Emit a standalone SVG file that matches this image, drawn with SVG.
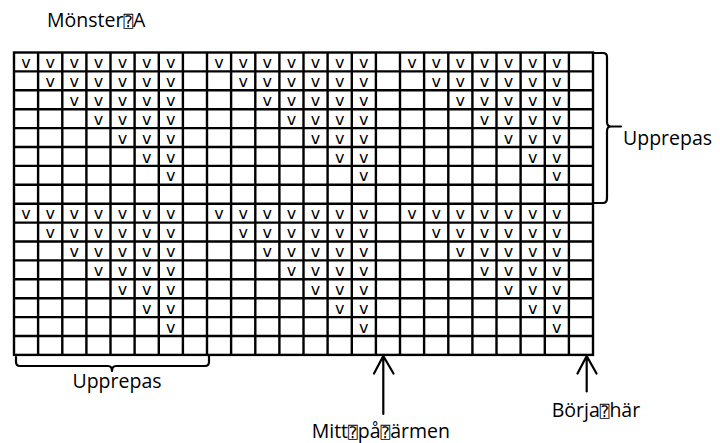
<svg xmlns="http://www.w3.org/2000/svg" width="720" height="443" viewBox="0 0 720 443">
  <style>
    .lbl { font-family: "Open Sans", "Noto Sans", "DejaVu Sans", sans-serif; font-size: 19.5px; fill: #000; }
    .gap { font-family: "DejaVu Sans Mono", "DejaVu Sans", monospace; font-size: 16px; }
    .st { font-family: "DejaVu Sans", "Open Sans", sans-serif; font-size: 16px; fill: #000; text-anchor: middle; }
    .grid { stroke: #000; stroke-width: 2.4; fill: none; }
    .ln { stroke: #000; stroke-width: 2.2; fill: none; stroke-linecap: round; stroke-linejoin: round; }
  </style>
  <rect width="720" height="443" fill="#fff"/>

  <g id="title">
    <text class="lbl" x="47" y="27">Mönster<tspan class="gap">&#x2370;</tspan>A</text>
  </g>

  <!-- chart grid: 24 columns x 16 rows -->
  <g id="chart">
    <g class="grid">
      <rect x="14" y="52.5" width="579" height="302.4"/>
      <path d="M38.1 52.5V354.9M62.3 52.5V354.9M86.4 52.5V354.9M110.5 52.5V354.9M134.6 52.5V354.9M158.8 52.5V354.9M182.9 52.5V354.9M207 52.5V354.9M231.1 52.5V354.9M255.3 52.5V354.9M279.4 52.5V354.9M303.5 52.5V354.9M327.6 52.5V354.9M351.8 52.5V354.9M375.9 52.5V354.9M400 52.5V354.9M424.1 52.5V354.9M448.3 52.5V354.9M472.4 52.5V354.9M496.5 52.5V354.9M520.6 52.5V354.9M544.8 52.5V354.9M568.9 52.5V354.9"/>
      <path d="M14 71.4H593M14 90.3H593M14 109.2H593M14 128.1H593M14 147H593M14 165.9H593M14 184.8H593M14 203.7H593M14 222.6H593M14 241.5H593M14 260.4H593M14 279.3H593M14 298.2H593M14 317.1H593M14 336H593"/>
    </g>
    <!-- stitch symbols; each block of 8x8 cells -->
    <g id="stitches">
      <!-- row 1 -->
      <text class="st" x="26.1" y="68">v</text><text class="st" x="50.2" y="68">v</text><text class="st" x="74.3" y="68">v</text><text class="st" x="98.4" y="68">v</text><text class="st" x="122.6" y="68">v</text><text class="st" x="146.7" y="68">v</text><text class="st" x="170.8" y="68">v</text>
      <text class="st" x="219.1" y="68">v</text><text class="st" x="243.2" y="68">v</text><text class="st" x="267.3" y="68">v</text><text class="st" x="291.4" y="68">v</text><text class="st" x="315.6" y="68">v</text><text class="st" x="339.7" y="68">v</text><text class="st" x="363.8" y="68">v</text>
      <text class="st" x="412.1" y="68">v</text><text class="st" x="436.2" y="68">v</text><text class="st" x="460.3" y="68">v</text><text class="st" x="484.4" y="68">v</text><text class="st" x="508.6" y="68">v</text><text class="st" x="532.7" y="68">v</text><text class="st" x="556.8" y="68">v</text>
      <!-- row 2 -->
      <text class="st" x="50.2" y="86.9">v</text><text class="st" x="74.3" y="86.9">v</text><text class="st" x="98.4" y="86.9">v</text><text class="st" x="122.6" y="86.9">v</text><text class="st" x="146.7" y="86.9">v</text><text class="st" x="170.8" y="86.9">v</text>
      <text class="st" x="243.2" y="86.9">v</text><text class="st" x="267.3" y="86.9">v</text><text class="st" x="291.4" y="86.9">v</text><text class="st" x="315.6" y="86.9">v</text><text class="st" x="339.7" y="86.9">v</text><text class="st" x="363.8" y="86.9">v</text>
      <text class="st" x="436.2" y="86.9">v</text><text class="st" x="460.3" y="86.9">v</text><text class="st" x="484.4" y="86.9">v</text><text class="st" x="508.6" y="86.9">v</text><text class="st" x="532.7" y="86.9">v</text><text class="st" x="556.8" y="86.9">v</text>
      <!-- row 3 -->
      <text class="st" x="74.3" y="105.8">v</text><text class="st" x="98.4" y="105.8">v</text><text class="st" x="122.6" y="105.8">v</text><text class="st" x="146.7" y="105.8">v</text><text class="st" x="170.8" y="105.8">v</text>
      <text class="st" x="267.3" y="105.8">v</text><text class="st" x="291.4" y="105.8">v</text><text class="st" x="315.6" y="105.8">v</text><text class="st" x="339.7" y="105.8">v</text><text class="st" x="363.8" y="105.8">v</text>
      <text class="st" x="460.3" y="105.8">v</text><text class="st" x="484.4" y="105.8">v</text><text class="st" x="508.6" y="105.8">v</text><text class="st" x="532.7" y="105.8">v</text><text class="st" x="556.8" y="105.8">v</text>
      <!-- row 4 -->
      <text class="st" x="98.4" y="124.7">v</text><text class="st" x="122.6" y="124.7">v</text><text class="st" x="146.7" y="124.7">v</text><text class="st" x="170.8" y="124.7">v</text>
      <text class="st" x="291.4" y="124.7">v</text><text class="st" x="315.6" y="124.7">v</text><text class="st" x="339.7" y="124.7">v</text><text class="st" x="363.8" y="124.7">v</text>
      <text class="st" x="484.4" y="124.7">v</text><text class="st" x="508.6" y="124.7">v</text><text class="st" x="532.7" y="124.7">v</text><text class="st" x="556.8" y="124.7">v</text>
      <!-- row 5 -->
      <text class="st" x="122.6" y="143.6">v</text><text class="st" x="146.7" y="143.6">v</text><text class="st" x="170.8" y="143.6">v</text>
      <text class="st" x="315.6" y="143.6">v</text><text class="st" x="339.7" y="143.6">v</text><text class="st" x="363.8" y="143.6">v</text>
      <text class="st" x="508.6" y="143.6">v</text><text class="st" x="532.7" y="143.6">v</text><text class="st" x="556.8" y="143.6">v</text>
      <!-- row 6 -->
      <text class="st" x="146.7" y="162.5">v</text><text class="st" x="170.8" y="162.5">v</text>
      <text class="st" x="339.7" y="162.5">v</text><text class="st" x="363.8" y="162.5">v</text>
      <text class="st" x="532.7" y="162.5">v</text><text class="st" x="556.8" y="162.5">v</text>
      <!-- row 7 -->
      <text class="st" x="170.8" y="181.4">v</text><text class="st" x="363.8" y="181.4">v</text><text class="st" x="556.8" y="181.4">v</text>
      <!-- row 9 -->
      <text class="st" x="26.1" y="219.2">v</text><text class="st" x="50.2" y="219.2">v</text><text class="st" x="74.3" y="219.2">v</text><text class="st" x="98.4" y="219.2">v</text><text class="st" x="122.6" y="219.2">v</text><text class="st" x="146.7" y="219.2">v</text><text class="st" x="170.8" y="219.2">v</text>
      <text class="st" x="219.1" y="219.2">v</text><text class="st" x="243.2" y="219.2">v</text><text class="st" x="267.3" y="219.2">v</text><text class="st" x="291.4" y="219.2">v</text><text class="st" x="315.6" y="219.2">v</text><text class="st" x="339.7" y="219.2">v</text><text class="st" x="363.8" y="219.2">v</text>
      <text class="st" x="412.1" y="219.2">v</text><text class="st" x="436.2" y="219.2">v</text><text class="st" x="460.3" y="219.2">v</text><text class="st" x="484.4" y="219.2">v</text><text class="st" x="508.6" y="219.2">v</text><text class="st" x="532.7" y="219.2">v</text><text class="st" x="556.8" y="219.2">v</text>
      <!-- row 10 -->
      <text class="st" x="50.2" y="238.1">v</text><text class="st" x="74.3" y="238.1">v</text><text class="st" x="98.4" y="238.1">v</text><text class="st" x="122.6" y="238.1">v</text><text class="st" x="146.7" y="238.1">v</text><text class="st" x="170.8" y="238.1">v</text>
      <text class="st" x="243.2" y="238.1">v</text><text class="st" x="267.3" y="238.1">v</text><text class="st" x="291.4" y="238.1">v</text><text class="st" x="315.6" y="238.1">v</text><text class="st" x="339.7" y="238.1">v</text><text class="st" x="363.8" y="238.1">v</text>
      <text class="st" x="436.2" y="238.1">v</text><text class="st" x="460.3" y="238.1">v</text><text class="st" x="484.4" y="238.1">v</text><text class="st" x="508.6" y="238.1">v</text><text class="st" x="532.7" y="238.1">v</text><text class="st" x="556.8" y="238.1">v</text>
      <!-- row 11 -->
      <text class="st" x="74.3" y="257">v</text><text class="st" x="98.4" y="257">v</text><text class="st" x="122.6" y="257">v</text><text class="st" x="146.7" y="257">v</text><text class="st" x="170.8" y="257">v</text>
      <text class="st" x="267.3" y="257">v</text><text class="st" x="291.4" y="257">v</text><text class="st" x="315.6" y="257">v</text><text class="st" x="339.7" y="257">v</text><text class="st" x="363.8" y="257">v</text>
      <text class="st" x="460.3" y="257">v</text><text class="st" x="484.4" y="257">v</text><text class="st" x="508.6" y="257">v</text><text class="st" x="532.7" y="257">v</text><text class="st" x="556.8" y="257">v</text>
      <!-- row 12 -->
      <text class="st" x="98.4" y="275.9">v</text><text class="st" x="122.6" y="275.9">v</text><text class="st" x="146.7" y="275.9">v</text><text class="st" x="170.8" y="275.9">v</text>
      <text class="st" x="291.4" y="275.9">v</text><text class="st" x="315.6" y="275.9">v</text><text class="st" x="339.7" y="275.9">v</text><text class="st" x="363.8" y="275.9">v</text>
      <text class="st" x="484.4" y="275.9">v</text><text class="st" x="508.6" y="275.9">v</text><text class="st" x="532.7" y="275.9">v</text><text class="st" x="556.8" y="275.9">v</text>
      <!-- row 13 -->
      <text class="st" x="122.6" y="294.8">v</text><text class="st" x="146.7" y="294.8">v</text><text class="st" x="170.8" y="294.8">v</text>
      <text class="st" x="315.6" y="294.8">v</text><text class="st" x="339.7" y="294.8">v</text><text class="st" x="363.8" y="294.8">v</text>
      <text class="st" x="508.6" y="294.8">v</text><text class="st" x="532.7" y="294.8">v</text><text class="st" x="556.8" y="294.8">v</text>
      <!-- row 14 -->
      <text class="st" x="146.7" y="313.7">v</text><text class="st" x="170.8" y="313.7">v</text>
      <text class="st" x="339.7" y="313.7">v</text><text class="st" x="363.8" y="313.7">v</text>
      <text class="st" x="532.7" y="313.7">v</text><text class="st" x="556.8" y="313.7">v</text>
      <!-- row 15 -->
      <text class="st" x="170.8" y="332.6">v</text><text class="st" x="363.8" y="332.6">v</text><text class="st" x="556.8" y="332.6">v</text>
    </g>
  </g>

  <!-- braces and arrows -->
  <g id="connectors">
    <path class="ln" d="M594 53H603Q607 53 607 57V122Q607 126.5 611 126.5H621M611 126.5Q607 126.5 607 131V198Q607 203 603 203H594"/>
    <path class="ln" d="M16 357V362Q16 366 20 366H108Q112 366 112 371M112 371Q112 366 116 366H205Q209 366 209 362V356"/>
    <path class="ln" d="M383.3 356V414M374 373.5L383.3 356L393.5 373.5"/>
    <path class="ln" d="M586.7 356V391.5M577.5 373.5L586.7 356L596.5 373.5"/>
  </g>

  <g id="label-repeat-rows">
    <text class="lbl" x="623" y="145">Upprepas</text>
  </g>
  <g id="label-repeat-cols">
    <text class="lbl" x="117" y="388" text-anchor="middle">Upprepas</text>
  </g>
  <g id="label-middle">
    <text class="lbl" x="311.7" y="437.5">Mitt<tspan class="gap">&#x2370;</tspan>på<tspan class="gap">&#x2370;</tspan>ärmen</text>
  </g>
  <g id="label-start">
    <text class="lbl" x="551.7" y="416.7">Börja<tspan class="gap">&#x2370;</tspan>här</text>
  </g>
</svg>
